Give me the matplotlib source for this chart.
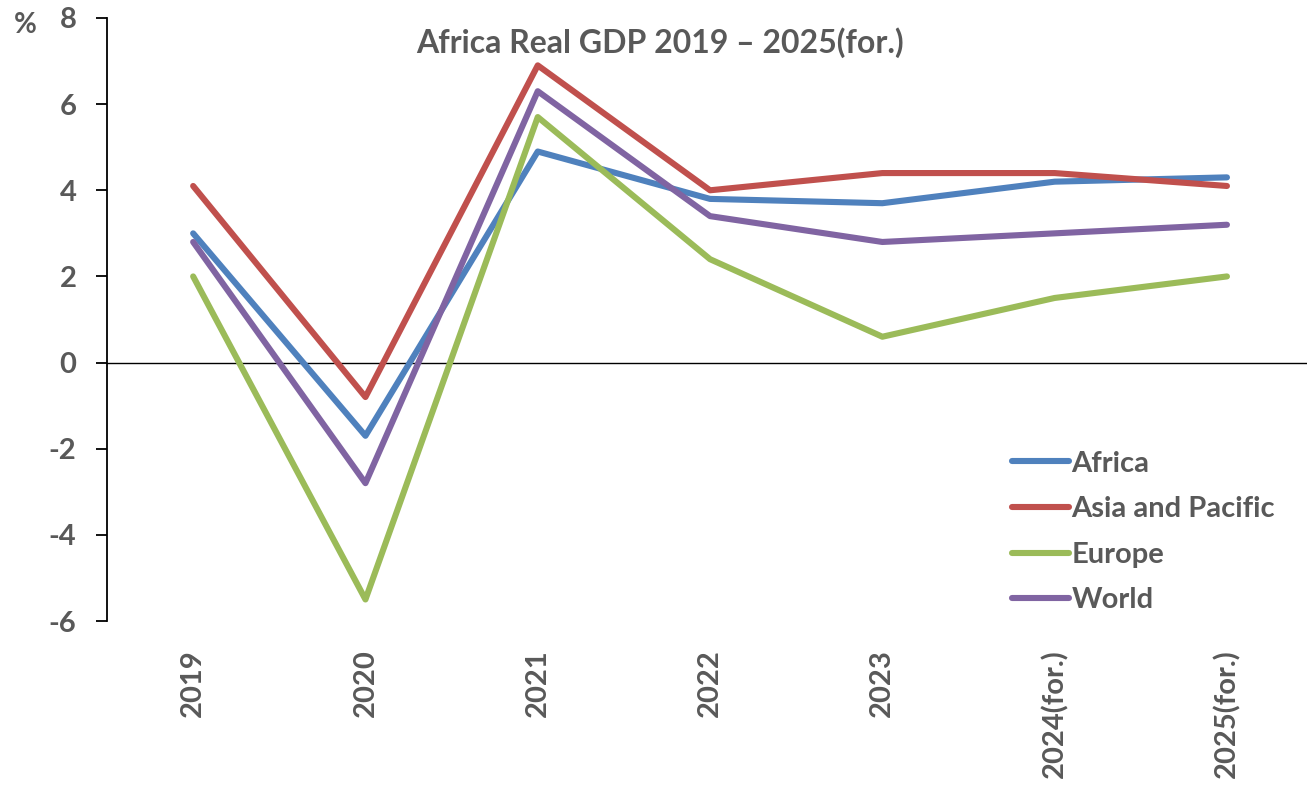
import matplotlib
matplotlib.use("Agg")
import matplotlib.pyplot as plt

categories = ["2019", "2020", "2021", "2022", "2023", "2024(for.)", "2025(for.)"]
africa = [3.0, -1.7, 4.9, 3.8, 3.7, 4.2, 4.3]
asia_pacific = [4.1, -0.8, 6.9, 4.0, 4.4, 4.4, 4.1]
europe = [2.0, -5.5, 5.7, 2.4, 0.6, 1.5, 2.0]
world = [2.8, -2.8, 6.3, 3.4, 2.8, 3.0, 3.2]
series_names = ["Africa", "Asia and Pacific", "Europe", "World"]
y_ticks = [-6, -4, -2, 0, 2, 4, 6, 8]

colors = ["#4F81BD", "#C0504D", "#9BBB59", "#8064A2"]
txt = "#595959"
plt.rcParams['font.family'] = ['Lato', 'DejaVu Sans']
plt.rcParams['font.weight'] = 'bold'

W, H = 1307, 786
fig = plt.figure(figsize=(W / 100, H / 100), dpi=100)
ax_w = W - 107
ax_h = 621 - 18
ax = fig.add_axes([107 / W, (H - 621) / H, ax_w / W, ax_h / H])

x = list(range(len(categories)))
for vals, name, c in zip([africa, asia_pacific, europe, world], series_names, colors):
    ax.plot(x, vals, color=c, lw=4.4, solid_capstyle='round', solid_joinstyle='round', label=name)

step = 172.3
ax.set_xlim(-0.5, -0.5 + ax_w / step)
ax.set_ylim(-6, 8)
ax.set_yticks(y_ticks)
ax.set_yticklabels([str(v) for v in y_ticks], fontsize=21, color=txt, fontweight='bold')
ax.tick_params(axis='y', length=8, width=1.3, direction='out', pad=14, colors='black', labelcolor=txt)
ax.set_xticks(x)
ax.set_xticklabels(categories, rotation=90, fontsize=21, color=txt, fontweight='bold', va='top')
ax.tick_params(axis='x', length=0, pad=20, labelcolor=txt)

for s in ['top', 'right', 'bottom']:
    ax.spines[s].set_visible(False)
ax.spines['left'].set_linewidth(1.3)
ax.axhline(0, color='black', lw=1.0, zorder=1)

fig.text(660 / W, 1 - 43 / H, "Africa Real GDP 2019 \u2013 2025(for.)", ha='center', va='center',
         fontsize=23, color=txt, fontweight='bold')
fig.text(25 / W, 1 - 25 / H, "%", ha='center', va='center', fontsize=20, color=txt, fontweight='bold')

leg = ax.legend(loc='upper left', bbox_to_anchor=((1000 - 107) / ax_w, (621 - 439) / ax_h),
                frameon=False, fontsize=21, handlelength=1.95, handletextpad=0.1,
                labelspacing=0.67, borderaxespad=0)
for t in leg.get_texts():
    t.set_color(txt)
    t.set_fontweight('bold')

fig.savefig("out.png", dpi=100)
